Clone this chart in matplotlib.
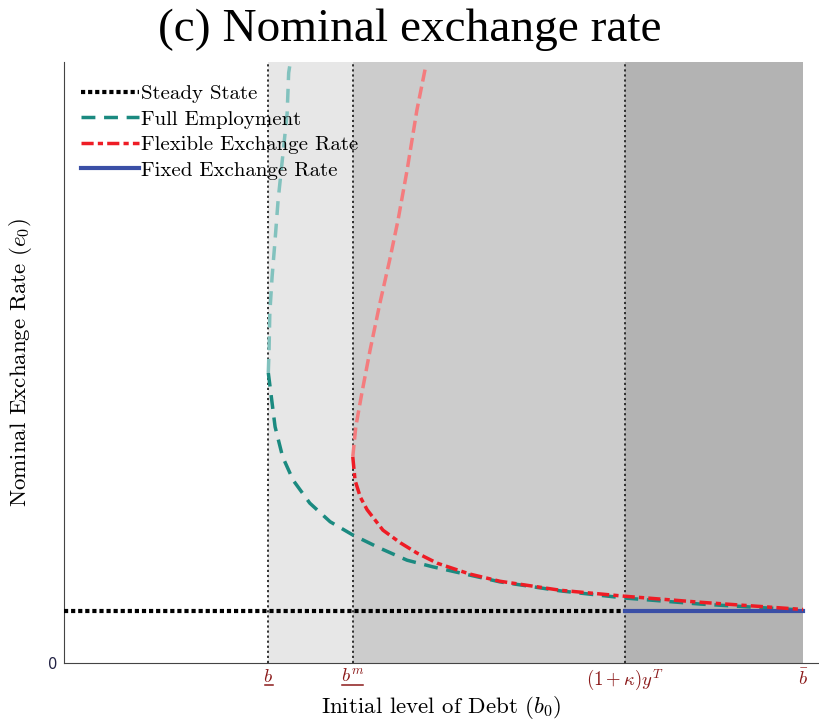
import numpy as np
import matplotlib as mpl
mpl.use('Agg')
import matplotlib.pyplot as plt
import matplotlib.transforms as mtransforms

mpl.rcParams['font.family'] = 'serif'
mpl.rcParams['font.serif'] = ['cmr10']
mpl.rcParams['mathtext.fontset'] = 'cm'
mpl.rcParams['axes.unicode_minus'] = False
mpl.rcParams['axes.formatter.use_mathtext'] = True

# thresholds on the debt axis
b_low = 2.71
b_m = 3.83
b_kappa = 7.44
b_bar = 9.80
steady = 0.865

# full employment, stable and unstable branch
fe_x = [2.71, 2.76, 2.80, 2.90, 3.04, 3.26, 3.53, 3.83, 4.19, 4.55, 4.89, 5.78, 6.58, 7.44, 8.44, 9.80]
fe_y = [4.83, 4.33, 3.93, 3.43, 3.04, 2.66, 2.35, 2.13, 1.91, 1.71, 1.60, 1.35, 1.20, 1.08, 0.98, 0.88]
fe_up_x = [2.71, 2.72, 2.73, 2.76, 2.80, 2.84, 2.90, 2.96, 2.98, 3.00]
fe_up_y = [4.83, 5.21, 5.82, 6.42, 7.04, 7.70, 8.42, 9.15, 9.82, 9.98]

# flexible exchange rate
flex_x = [3.83, 3.86, 3.93, 4.02, 4.23, 4.46, 4.68, 4.95, 5.38, 5.78, 6.58, 7.44, 8.44, 9.80]
flex_y = [3.43, 3.04, 2.76, 2.55, 2.21, 2.00, 1.83, 1.66, 1.48, 1.36, 1.21, 1.11, 1.01, 0.89]
flex_up_x = [3.83, 3.87, 3.95, 4.06, 4.19, 4.32, 4.43, 4.55, 4.68, 4.80]
flex_up_y = [3.43, 3.93, 4.49, 5.21, 5.99, 6.71, 7.37, 8.20, 9.20, 9.95]

xticks = [b_low, b_m, b_kappa, b_bar]
xticklabels = [r'$b$', r'$b^m$', r'$(1+\kappa)y^T$', r'$\bar{b}$']

teal = '#1b8a80'
teal_light = '#82c2be'
red = '#ee1c25'
red_light = '#f47c7e'
blue = '#3a4fa6'
tick_red = '#8b1a1a'

fig = plt.figure(figsize=(8.19, 7.24), dpi=100)
ax = fig.add_axes([0.078, 0.0843, 0.921, 0.830])

ax.axvspan(b_low, b_m, color='#e7e7e7', lw=0, zorder=0)
ax.axvspan(b_m, b_kappa, color='#cccccc', lw=0, zorder=0)
ax.axvspan(b_kappa, b_bar, color='#b3b3b3', lw=0, zorder=0)
for xv in [b_low, b_m, b_kappa]:
    ax.axvline(xv, color='#222222', ls=(0, (1.2, 1.6)), lw=1.3, zorder=1)

ax.plot([0, b_kappa], [steady, steady], color='black', ls=(0, (1, 0.7)), lw=3,
        label='Steady State', zorder=3)
ax.plot(fe_x, fe_y, color=teal, ls=(0, (4, 2.5)), lw=2.5, label='Full Employment', zorder=3)
ax.plot(fe_up_x, fe_up_y, color=teal_light, ls=(0, (4, 2.5)), lw=2.5, zorder=3)
ax.plot(flex_x, flex_y, color=red, ls=(0, (3.5, 1.2, 1.5, 1.2)), lw=2.5,
        label='Flexible Exchange Rate', zorder=4)
ax.plot(flex_up_x, flex_up_y, color=red_light, ls=(0, (3.5, 1.5)), lw=2.5, zorder=4)
ax.plot([b_kappa, b_bar], [steady, steady], color=blue, lw=3, label='Fixed Exchange Rate', zorder=3)

ax.set_xlim(0, 10)
ax.set_ylim(0, 10)
ax.set_xticks(xticks)
ax.set_xticklabels(xticklabels, color=tick_red, fontsize=13.5)
ax.set_yticks([0])
ax.set_yticklabels(['0'], family='DejaVu Sans', fontsize=10.5, color='#222244')
ax.tick_params(axis='x', length=0, pad=3.5)
ax.tick_params(axis='y', length=0, pad=5)
for s in ['top', 'right']:
    ax.spines[s].set_visible(False)
ax.spines['left'].set_color('#444444')
ax.spines['bottom'].set_color('#444444')

# underlines for the lower bounds (mathtext has no \underline)
trans = mtransforms.blended_transform_factory(ax.transData, ax.transAxes)
ax.plot([b_low - 0.045, b_low + 0.065], [-0.037, -0.037], color=tick_red, lw=1.1,
        transform=trans, clip_on=False)
ax.plot([b_m - 0.14, b_m + 0.14], [-0.037, -0.037], color=tick_red, lw=1.1,
        transform=trans, clip_on=False)

ax.set_xlabel(r'Initial level of Debt ($b_0$)', fontsize=16.5, labelpad=1)
ax.set_ylabel(r'Nominal Exchange Rate ($e_0$)', fontsize=16.5, labelpad=10)
fig.suptitle('(c) Nominal exchange rate', family='Liberation Serif', fontsize=34, y=0.988)

ax.legend(loc='upper left', bbox_to_anchor=(0.0, 0.99), frameon=False, fontsize=15,
          handlelength=2.8, handletextpad=0.1, labelspacing=0.33, borderpad=0.3)

plt.savefig('out.png', dpi=100)
